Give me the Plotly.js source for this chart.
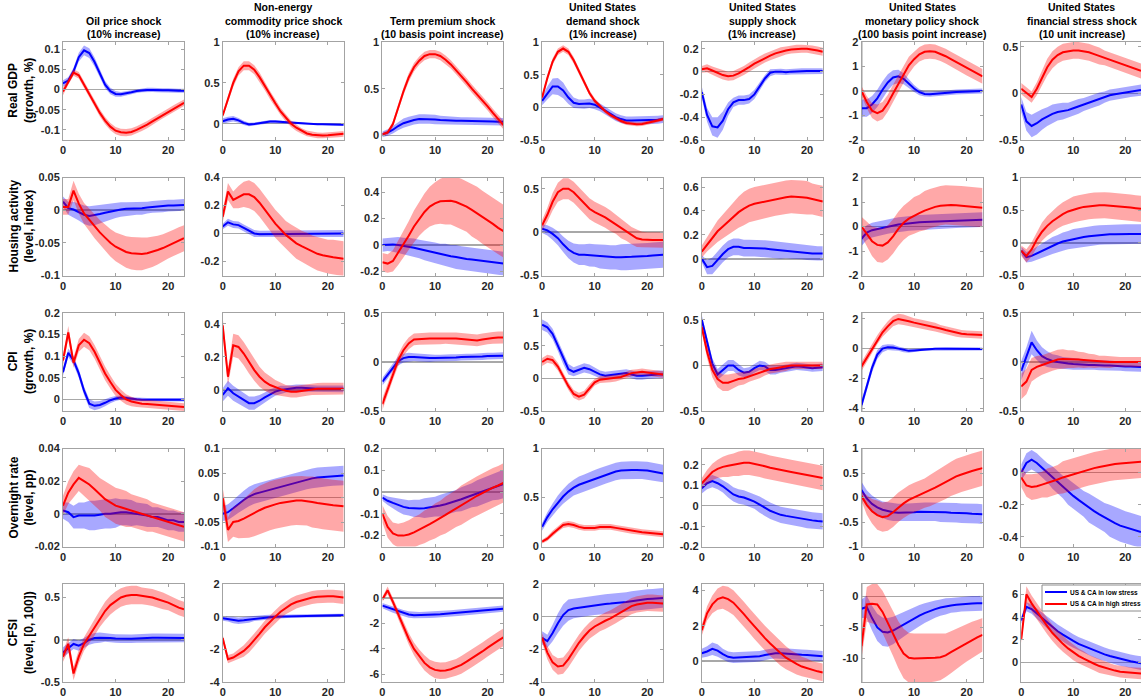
<!DOCTYPE html>
<html>
<head>
<meta charset="utf-8">
<script src="https://cdn.plot.ly/plotly-3.0.1.min.js"></script>
<style>html,body{margin:0;padding:0;background:#fff;}#chart{width:1141px;height:700px;}</style>
</head>
<body>
<div id="chart"></div>
<script>
// ---------- categories / labels ----------
const horizon = [0,1,2,3,4,5,6,7,8,9,10,11,12,13,14,15,16,17,18,19,20,21,22,23];
const xTickVals = [0,10,20];
const rowTitles = ["Real GDP<br>(growth, %)","Housing activity<br>(level, index)","CPI<br>(growth, %)","Overnight rate<br>(level, pp)","CFSI<br>(level, [0, 100])"];
const colTitles = ["Oil price shock<br>(10% increase)","Non-energy<br>commodity price shock<br>(10% increase)","Term premium shock<br>(10 basis point increase)","United States<br>demand shock<br>(1% increase)","United States<br>supply shock<br>(1% increase)","United States<br>monetary policy shock<br>(100 basis point increase)","United States<br>financial stress shock<br>(10 unit increase)"];
const seriesNames = ["US & CA in low stress","US & CA in high stress"];

// ---------- Row 1: Real GDP ----------
const gdp_oil_lo = [0.015,0.022,0.045,0.08,0.097,0.09,0.068,0.038,0.012,-0.004,-0.011,-0.012,-0.01,-0.007,-0.004,-0.002,-0.001,-0.001,-0.002,-0.002,-0.002,-0.003,-0.003,-0.003];
const gdp_oil_lo_bw = [0.008,0.008,0.009,0.011,0.012,0.012,0.011,0.01,0.009,0.008,0.007,0.006,0.006,0.005,0.005,0.005,0.005,0.005,0.005,0.005,0.005,0.005,0.005,0.005];
const gdp_oil_hi = [-0.005,0.02,0.042,0.035,0.012,-0.012,-0.035,-0.058,-0.077,-0.092,-0.102,-0.106,-0.107,-0.105,-0.1,-0.094,-0.087,-0.079,-0.071,-0.063,-0.055,-0.047,-0.04,-0.033];
const gdp_oil_hi_bw = [0.009,0.008,0.008,0.008,0.008,0.008,0.008,0.009,0.009,0.009,0.009,0.009,0.009,0.009,0.009,0.009,0.009,0.009,0.008,0.008,0.008,0.008,0.008,0.008];

const gdp_comm_lo = [0.03,0.05,0.06,0.04,0.01,-0.01,-0.005,0.005,0.015,0.025,0.025,0.02,0.015,0.01,0.005,0.0,-0.003,-0.005,-0.007,-0.008,-0.009,-0.01,-0.011,-0.012];
const gdp_comm_lo_bw = [0.035,0.035,0.035,0.03,0.025,0.022,0.02,0.02,0.02,0.02,0.02,0.018,0.016,0.015,0.014,0.013,0.012,0.012,0.012,0.012,0.012,0.012,0.012,0.012];
const gdp_comm_hi = [0.1,0.3,0.5,0.64,0.71,0.71,0.66,0.57,0.46,0.35,0.25,0.15,0.07,0.0,-0.05,-0.09,-0.12,-0.135,-0.143,-0.145,-0.143,-0.138,-0.132,-0.125];
const gdp_comm_hi_bw = [0.03,0.04,0.05,0.05,0.055,0.055,0.055,0.055,0.05,0.05,0.05,0.045,0.045,0.04,0.04,0.035,0.035,0.035,0.035,0.035,0.035,0.035,0.035,0.035];

const gdp_term_lo = [0.01,0.03,0.06,0.1,0.13,0.15,0.165,0.175,0.175,0.175,0.17,0.165,0.16,0.158,0.156,0.155,0.155,0.154,0.153,0.152,0.15,0.148,0.146,0.145];
const gdp_term_lo_bw = [0.03,0.035,0.04,0.045,0.05,0.05,0.05,0.05,0.05,0.05,0.05,0.045,0.045,0.045,0.04,0.04,0.04,0.04,0.04,0.04,0.04,0.04,0.04,0.04];
const gdp_term_hi = [0.01,0.03,0.12,0.3,0.47,0.62,0.73,0.8,0.85,0.87,0.87,0.85,0.81,0.76,0.7,0.64,0.57,0.5,0.44,0.37,0.31,0.24,0.17,0.11];
const gdp_term_hi_bw = [0.02,0.025,0.03,0.035,0.04,0.045,0.045,0.045,0.045,0.045,0.045,0.045,0.045,0.045,0.045,0.045,0.045,0.045,0.045,0.045,0.045,0.045,0.045,0.045];

const gdp_dem_lo = [0.1,0.22,0.32,0.32,0.26,0.15,0.07,0.05,0.05,0.06,0.04,0.0,-0.05,-0.1,-0.15,-0.18,-0.2,-0.2,-0.2,-0.2,-0.2,-0.2,-0.19,-0.18];
const gdp_dem_lo_bw = [0.07,0.1,0.12,0.13,0.12,0.1,0.08,0.07,0.07,0.07,0.07,0.06,0.06,0.06,0.06,0.06,0.06,0.06,0.06,0.06,0.06,0.06,0.06,0.06];
const gdp_dem_hi = [0.15,0.45,0.7,0.85,0.9,0.85,0.72,0.55,0.38,0.22,0.1,0.02,-0.06,-0.12,-0.17,-0.21,-0.24,-0.25,-0.26,-0.255,-0.24,-0.22,-0.2,-0.18];
const gdp_dem_hi_bw = [0.04,0.05,0.05,0.05,0.05,0.05,0.05,0.05,0.04,0.04,0.04,0.04,0.03,0.03,0.03,0.03,0.03,0.03,0.03,0.03,0.03,0.03,0.03,0.03];

const gdp_sup_lo = [-0.18,-0.38,-0.48,-0.49,-0.43,-0.33,-0.27,-0.25,-0.25,-0.24,-0.2,-0.13,-0.06,-0.01,0.0,0.0,-0.005,0.0,0.003,0.005,0.005,0.005,0.005,0.005];
const gdp_sup_lo_bw = [0.05,0.06,0.08,0.09,0.08,0.06,0.04,0.04,0.04,0.04,0.04,0.035,0.03,0.03,0.025,0.025,0.025,0.025,0.025,0.025,0.025,0.025,0.025,0.025];
const gdp_sup_hi = [0.02,0.03,0.01,-0.01,-0.03,-0.04,-0.035,-0.015,0.01,0.04,0.07,0.095,0.12,0.14,0.16,0.175,0.185,0.195,0.2,0.2,0.2,0.195,0.185,0.175];
const gdp_sup_hi_bw = [0.03,0.035,0.035,0.04,0.04,0.04,0.04,0.04,0.04,0.04,0.04,0.04,0.04,0.04,0.04,0.04,0.035,0.035,0.035,0.035,0.035,0.035,0.035,0.035];

const gdp_mon_lo = [-0.7,-0.7,-0.55,-0.3,0.05,0.35,0.55,0.6,0.5,0.3,0.1,-0.05,-0.12,-0.13,-0.12,-0.1,-0.08,-0.06,-0.04,-0.03,-0.02,-0.01,0.0,0.0];
const gdp_mon_lo_bw = [0.35,0.35,0.35,0.35,0.35,0.33,0.3,0.27,0.22,0.18,0.14,0.12,0.1,0.1,0.1,0.1,0.1,0.1,0.1,0.1,0.1,0.1,0.1,0.1];
const gdp_mon_hi = [0.0,-0.45,-0.8,-0.9,-0.8,-0.5,-0.1,0.3,0.7,1.05,1.3,1.5,1.6,1.62,1.6,1.52,1.42,1.3,1.18,1.05,0.93,0.82,0.7,0.6];
const gdp_mon_hi_bw = [0.2,0.25,0.3,0.35,0.35,0.35,0.35,0.35,0.35,0.35,0.3,0.3,0.3,0.3,0.3,0.3,0.3,0.3,0.3,0.3,0.3,0.3,0.3,0.3];

const gdp_fin_lo = [-0.12,-0.3,-0.35,-0.32,-0.28,-0.25,-0.22,-0.2,-0.19,-0.18,-0.16,-0.14,-0.12,-0.1,-0.08,-0.06,-0.04,-0.02,-0.01,0.0,0.01,0.02,0.03,0.035];
const gdp_fin_lo_bw = [0.08,0.1,0.12,0.12,0.11,0.1,0.1,0.09,0.09,0.08,0.08,0.08,0.07,0.07,0.07,0.07,0.06,0.06,0.06,0.06,0.06,0.06,0.06,0.06];
const gdp_fin_hi = [0.05,0.0,-0.04,0.05,0.17,0.28,0.36,0.41,0.44,0.45,0.46,0.46,0.45,0.44,0.42,0.4,0.38,0.36,0.34,0.32,0.3,0.28,0.26,0.24];
const gdp_fin_hi_bw = [0.06,0.06,0.06,0.07,0.08,0.09,0.09,0.09,0.09,0.09,0.09,0.09,0.09,0.09,0.09,0.09,0.08,0.08,0.08,0.08,0.08,0.08,0.08,0.08];

// ---------- Row 2: Housing activity ----------
const house_oil_lo = [0.013,0.003,0.001,-0.003,-0.007,-0.009,-0.008,-0.006,-0.004,-0.002,0.0,0.001,0.002,0.002,0.003,0.003,0.004,0.005,0.006,0.006,0.007,0.007,0.008,0.008];
const house_oil_lo_bw = [0.008,0.01,0.012,0.013,0.014,0.015,0.015,0.015,0.014,0.013,0.012,0.011,0.01,0.01,0.01,0.01,0.009,0.009,0.009,0.009,0.009,0.009,0.009,0.009];
const house_oil_hi = [0.005,0.005,0.03,0.01,-0.005,-0.015,-0.025,-0.034,-0.042,-0.05,-0.056,-0.06,-0.064,-0.066,-0.067,-0.067,-0.066,-0.064,-0.061,-0.058,-0.054,-0.05,-0.046,-0.043];
const house_oil_hi_bw = [0.012,0.012,0.015,0.015,0.016,0.017,0.018,0.019,0.02,0.021,0.022,0.023,0.024,0.025,0.025,0.025,0.024,0.023,0.022,0.021,0.02,0.02,0.02,0.02];

const house_comm_lo = [0.05,0.08,0.065,0.06,0.04,0.02,0.0,-0.005,-0.005,-0.003,0.0,0.0,0.0,0.0,0.0,0.0,0.0,0.0,0.0,0.0,0.0,0.0,0.0,0.0];
const house_comm_lo_bw = [0.02,0.025,0.025,0.025,0.025,0.025,0.025,0.025,0.025,0.025,0.025,0.025,0.025,0.025,0.025,0.025,0.025,0.025,0.025,0.025,0.025,0.025,0.025,0.025];
const house_comm_hi = [0.12,0.3,0.24,0.26,0.28,0.28,0.26,0.22,0.17,0.12,0.07,0.03,-0.01,-0.04,-0.07,-0.09,-0.11,-0.13,-0.145,-0.155,-0.165,-0.17,-0.175,-0.18];
const house_comm_hi_bw = [0.04,0.06,0.06,0.08,0.09,0.1,0.1,0.1,0.1,0.1,0.1,0.1,0.1,0.105,0.11,0.11,0.115,0.115,0.12,0.12,0.12,0.125,0.125,0.125];

const house_term_lo = [0.0,0.005,0.005,0.0,-0.005,-0.01,-0.02,-0.03,-0.04,-0.05,-0.06,-0.07,-0.075,-0.085,-0.09,-0.1,-0.105,-0.11,-0.115,-0.12,-0.125,-0.13,-0.135,-0.14];
const house_term_lo_bw = [0.05,0.05,0.055,0.06,0.06,0.065,0.07,0.07,0.075,0.075,0.08,0.08,0.085,0.085,0.09,0.09,0.09,0.09,0.09,0.09,0.09,0.09,0.09,0.09];
const house_term_hi = [-0.13,-0.14,-0.12,-0.06,0.0,0.07,0.14,0.2,0.25,0.29,0.315,0.33,0.335,0.335,0.325,0.31,0.29,0.265,0.24,0.21,0.185,0.16,0.13,0.105];
const house_term_hi_bw = [0.07,0.07,0.08,0.09,0.1,0.11,0.12,0.13,0.14,0.15,0.16,0.17,0.18,0.18,0.19,0.19,0.19,0.2,0.2,0.2,0.2,0.2,0.2,0.2];

const house_dem_lo = [0.04,0.02,-0.02,-0.07,-0.14,-0.2,-0.24,-0.26,-0.26,-0.265,-0.27,-0.28,-0.285,-0.29,-0.29,-0.29,-0.29,-0.285,-0.28,-0.28,-0.275,-0.27,-0.265,-0.26];
const house_dem_lo_bw = [0.05,0.06,0.07,0.08,0.09,0.1,0.11,0.12,0.12,0.13,0.13,0.14,0.14,0.14,0.14,0.15,0.15,0.15,0.15,0.15,0.15,0.15,0.15,0.15];
const house_dem_hi = [0.08,0.2,0.35,0.46,0.5,0.5,0.46,0.4,0.33,0.27,0.23,0.2,0.17,0.13,0.09,0.04,0.0,-0.04,-0.07,-0.085,-0.09,-0.09,-0.09,-0.09];
const house_dem_hi_bw = [0.06,0.08,0.1,0.11,0.12,0.12,0.12,0.12,0.12,0.12,0.12,0.12,0.12,0.12,0.11,0.11,0.1,0.1,0.1,0.09,0.09,0.09,0.09,0.09];

const house_sup_lo = [0.0,-0.07,-0.06,-0.01,0.04,0.08,0.1,0.1,0.09,0.09,0.09,0.09,0.085,0.08,0.075,0.07,0.07,0.065,0.06,0.055,0.05,0.045,0.045,0.045];
const house_sup_lo_bw = [0.03,0.06,0.07,0.07,0.07,0.07,0.07,0.07,0.07,0.07,0.07,0.07,0.07,0.07,0.07,0.07,0.065,0.065,0.065,0.06,0.06,0.06,0.06,0.06];
const house_sup_hi = [0.06,0.12,0.18,0.23,0.27,0.31,0.35,0.39,0.42,0.445,0.46,0.47,0.48,0.49,0.5,0.51,0.515,0.52,0.52,0.515,0.51,0.5,0.49,0.48];
const house_sup_hi_bw = [0.05,0.06,0.08,0.09,0.1,0.11,0.12,0.13,0.14,0.14,0.14,0.14,0.14,0.14,0.14,0.14,0.14,0.14,0.14,0.14,0.14,0.13,0.13,0.13];

const house_mon_lo = [-0.5,-0.25,-0.15,-0.1,-0.05,0.0,0.05,0.08,0.1,0.13,0.15,0.17,0.18,0.19,0.2,0.21,0.22,0.23,0.24,0.25,0.26,0.27,0.28,0.28];
const house_mon_lo_bw = [0.3,0.3,0.3,0.3,0.3,0.3,0.3,0.3,0.3,0.3,0.3,0.3,0.3,0.3,0.3,0.3,0.3,0.3,0.3,0.3,0.3,0.3,0.3,0.3];
const house_mon_hi = [0.0,-0.3,-0.6,-0.75,-0.78,-0.65,-0.4,-0.1,0.15,0.32,0.45,0.55,0.65,0.73,0.8,0.85,0.88,0.88,0.87,0.85,0.83,0.81,0.79,0.77];
const house_mon_hi_bw = [0.4,0.5,0.6,0.7,0.7,0.7,0.7,0.7,0.7,0.7,0.75,0.75,0.8,0.8,0.8,0.8,0.8,0.8,0.8,0.8,0.8,0.8,0.8,0.8];

const house_fin_lo = [-0.12,-0.22,-0.2,-0.16,-0.12,-0.08,-0.04,-0.01,0.02,0.04,0.06,0.075,0.09,0.1,0.11,0.12,0.125,0.13,0.13,0.135,0.135,0.135,0.135,0.135];
const house_fin_lo_bw = [0.06,0.08,0.09,0.1,0.11,0.12,0.13,0.13,0.14,0.14,0.15,0.15,0.15,0.15,0.15,0.15,0.15,0.15,0.15,0.15,0.15,0.15,0.15,0.15];
const house_fin_hi = [-0.12,-0.2,-0.1,0.05,0.17,0.26,0.33,0.39,0.44,0.48,0.51,0.53,0.55,0.56,0.57,0.575,0.575,0.57,0.565,0.56,0.55,0.54,0.53,0.52];
const house_fin_hi_bw = [0.08,0.1,0.11,0.12,0.14,0.15,0.16,0.17,0.18,0.19,0.2,0.2,0.2,0.2,0.2,0.2,0.2,0.2,0.2,0.2,0.2,0.2,0.2,0.2];

// ---------- Row 3: CPI ----------
const cpi_oil_lo = [0.063,0.108,0.09,0.06,0.02,-0.01,-0.015,-0.013,-0.008,-0.002,0.002,0.004,0.003,0.001,0.0,-0.001,-0.001,-0.001,-0.001,-0.001,-0.001,-0.001,-0.001,-0.001];
const cpi_oil_lo_bw = [0.008,0.01,0.01,0.01,0.01,0.01,0.01,0.009,0.008,0.007,0.006,0.005,0.005,0.004,0.004,0.004,0.004,0.004,0.004,0.004,0.004,0.004,0.004,0.004];
const cpi_oil_hi = [0.09,0.155,0.085,0.125,0.138,0.13,0.11,0.085,0.06,0.04,0.022,0.01,0.0,-0.005,-0.008,-0.01,-0.011,-0.012,-0.013,-0.014,-0.015,-0.016,-0.017,-0.018];
const cpi_oil_hi_bw = [0.012,0.015,0.012,0.015,0.016,0.016,0.016,0.016,0.016,0.015,0.014,0.013,0.012,0.011,0.01,0.01,0.01,0.01,0.009,0.009,0.009,0.009,0.009,0.009];

const cpi_comm_lo = [-0.03,0.01,-0.02,-0.04,-0.06,-0.08,-0.08,-0.065,-0.045,-0.025,-0.01,0.0,0.005,0.01,0.013,0.013,0.01,0.008,0.007,0.007,0.007,0.007,0.007,0.007];
const cpi_comm_lo_bw = [0.04,0.045,0.045,0.045,0.04,0.04,0.04,0.035,0.03,0.03,0.025,0.025,0.02,0.02,0.02,0.02,0.02,0.02,0.02,0.02,0.02,0.02,0.02,0.02];
const cpi_comm_hi = [0.39,0.08,0.27,0.26,0.22,0.17,0.12,0.08,0.05,0.03,0.015,0.005,-0.005,-0.01,-0.01,-0.005,0.0,0.005,0.007,0.008,0.008,0.008,0.008,0.008];
const cpi_comm_hi_bw = [0.05,0.05,0.07,0.07,0.07,0.07,0.065,0.06,0.055,0.05,0.045,0.04,0.035,0.035,0.035,0.035,0.035,0.035,0.035,0.035,0.035,0.035,0.035,0.035];

const cpi_term_lo = [-0.2,-0.13,-0.05,0.01,0.04,0.05,0.05,0.045,0.04,0.04,0.04,0.04,0.045,0.045,0.045,0.05,0.05,0.05,0.055,0.055,0.06,0.06,0.065,0.065];
const cpi_term_lo_bw = [0.04,0.04,0.04,0.045,0.045,0.045,0.04,0.04,0.04,0.04,0.035,0.035,0.035,0.035,0.035,0.035,0.035,0.035,0.035,0.035,0.035,0.035,0.035,0.035];
const cpi_term_hi = [-0.43,-0.28,-0.12,0.02,0.12,0.19,0.23,0.235,0.24,0.24,0.24,0.24,0.245,0.245,0.24,0.235,0.23,0.225,0.22,0.23,0.24,0.245,0.25,0.25];
const cpi_term_hi_bw = [0.06,0.06,0.06,0.06,0.06,0.06,0.06,0.06,0.06,0.06,0.06,0.06,0.06,0.06,0.06,0.06,0.06,0.06,0.06,0.06,0.06,0.06,0.06,0.06];

const cpi_dem_lo = [0.82,0.78,0.68,0.5,0.3,0.14,0.1,0.13,0.16,0.14,0.1,0.06,0.04,0.05,0.07,0.08,0.08,0.06,0.04,0.04,0.05,0.06,0.06,0.06];
const cpi_dem_lo_bw = [0.08,0.08,0.08,0.08,0.08,0.08,0.07,0.07,0.07,0.07,0.06,0.06,0.06,0.06,0.06,0.06,0.06,0.06,0.06,0.06,0.06,0.06,0.06,0.06];
const cpi_dem_hi = [0.25,0.3,0.28,0.18,0.03,-0.12,-0.24,-0.28,-0.25,-0.15,-0.06,-0.02,-0.01,-0.01,0.0,0.02,0.05,0.08,0.09,0.1,0.09,0.08,0.07,0.06];
const cpi_dem_hi_bw = [0.06,0.06,0.06,0.06,0.06,0.06,0.06,0.06,0.06,0.06,0.05,0.05,0.05,0.05,0.05,0.05,0.05,0.05,0.05,0.05,0.05,0.05,0.05,0.05];

const cpi_sup_lo = [0.5,0.25,0.02,-0.1,-0.05,0.0,0.0,-0.05,-0.08,-0.07,-0.03,0.0,-0.01,-0.05,-0.05,-0.04,-0.03,-0.02,-0.01,-0.015,-0.02,-0.03,-0.025,-0.02];
const cpi_sup_lo_bw = [0.05,0.06,0.06,0.06,0.06,0.06,0.06,0.06,0.05,0.05,0.05,0.05,0.05,0.05,0.05,0.04,0.04,0.04,0.04,0.04,0.04,0.04,0.04,0.04];
const cpi_sup_hi = [0.42,0.15,-0.05,-0.15,-0.19,-0.19,-0.17,-0.15,-0.14,-0.12,-0.1,-0.08,-0.06,-0.04,-0.03,-0.02,-0.01,0.0,0.0,0.0,0.0,0.0,0.0,0.0];
const cpi_sup_hi_bw = [0.05,0.07,0.08,0.09,0.09,0.09,0.08,0.07,0.07,0.06,0.06,0.06,0.05,0.05,0.05,0.05,0.05,0.04,0.04,0.04,0.04,0.04,0.04,0.04];

const cpi_mon_lo = [-3.8,-2.5,-1.3,-0.4,0.0,0.1,0.08,0.0,-0.1,-0.15,-0.12,-0.08,-0.05,-0.02,0.0,0.0,0.0,0.0,0.0,0.0,0.0,-0.02,-0.02,-0.02];
const cpi_mon_lo_bw = [0.3,0.3,0.3,0.3,0.25,0.2,0.2,0.15,0.15,0.12,0.12,0.1,0.1,0.1,0.1,0.1,0.1,0.1,0.1,0.1,0.1,0.1,0.1,0.1];
const cpi_mon_hi = [-1.2,-0.6,0.0,0.6,1.1,1.5,1.85,2.0,1.95,1.85,1.75,1.68,1.6,1.52,1.45,1.35,1.25,1.15,1.05,1.0,0.97,0.95,0.93,0.92];
const cpi_mon_hi_bw = [0.3,0.3,0.3,0.3,0.3,0.35,0.35,0.35,0.35,0.3,0.3,0.3,0.3,0.3,0.3,0.25,0.25,0.25,0.25,0.25,0.25,0.25,0.25,0.25];

const cpi_fin_lo = [-0.09,0.05,0.2,0.12,0.06,0.03,0.01,0.0,-0.01,-0.015,-0.02,-0.025,-0.03,-0.03,-0.03,-0.035,-0.035,-0.035,-0.04,-0.04,-0.045,-0.045,-0.05,-0.05];
const cpi_fin_lo_bw = [0.1,0.1,0.12,0.1,0.09,0.08,0.07,0.07,0.06,0.06,0.06,0.06,0.05,0.05,0.05,0.05,0.05,0.05,0.05,0.05,0.05,0.05,0.05,0.05];
const cpi_fin_hi = [-0.25,-0.2,-0.08,-0.05,-0.03,-0.01,0.01,0.025,0.03,0.03,0.03,0.025,0.02,0.015,0.01,0.005,0.005,0.0,0.0,0.0,0.0,0.0,0.0,0.0];
const cpi_fin_hi_bw = [0.13,0.13,0.12,0.11,0.1,0.1,0.1,0.1,0.1,0.09,0.09,0.08,0.08,0.07,0.07,0.06,0.06,0.06,0.05,0.05,0.05,0.05,0.05,0.05];

// ---------- Row 4: Overnight rate ----------
const rate_oil_lo = [0.002,0.001,-0.002,-0.001,-0.001,-0.001,-0.001,-0.0005,0.0,0.0,0.0005,0.001,0.001,0.0005,0.0,-0.0005,-0.001,-0.002,-0.002,-0.003,-0.004,-0.004,-0.005,-0.005];
const rate_oil_lo_bw = [0.005,0.006,0.007,0.008,0.008,0.009,0.009,0.009,0.009,0.009,0.009,0.008,0.008,0.008,0.007,0.007,0.007,0.006,0.006,0.006,0.006,0.006,0.006,0.006];
const rate_oil_hi = [0.005,0.013,0.018,0.022,0.02,0.018,0.015,0.012,0.009,0.007,0.005,0.004,0.003,0.002,0.001,0.0,-0.001,-0.002,-0.003,-0.004,-0.005,-0.006,-0.007,-0.008];
const rate_oil_hi_bw = [0.006,0.007,0.008,0.008,0.009,0.01,0.01,0.01,0.011,0.011,0.011,0.011,0.011,0.01,0.01,0.01,0.01,0.009,0.009,0.009,0.009,0.009,0.009,0.009];

const rate_comm_lo = [-0.033,-0.03,-0.022,-0.013,-0.005,0.002,0.007,0.01,0.013,0.016,0.019,0.022,0.025,0.028,0.031,0.034,0.037,0.039,0.041,0.042,0.043,0.044,0.045,0.045];
const rate_comm_lo_bw = [0.015,0.016,0.017,0.018,0.019,0.02,0.02,0.02,0.02,0.02,0.02,0.02,0.02,0.02,0.02,0.02,0.02,0.02,0.02,0.02,0.02,0.02,0.02,0.02];
const rate_comm_hi = [0.0,-0.066,-0.05,-0.048,-0.043,-0.037,-0.031,-0.026,-0.021,-0.017,-0.014,-0.011,-0.009,-0.007,-0.006,-0.006,-0.007,-0.009,-0.011,-0.013,-0.015,-0.016,-0.017,-0.018];
const rate_comm_hi_bw = [0.02,0.025,0.03,0.035,0.04,0.045,0.048,0.05,0.05,0.05,0.05,0.05,0.05,0.05,0.05,0.05,0.05,0.052,0.052,0.052,0.052,0.052,0.052,0.052];

const rate_term_lo = [-0.025,-0.04,-0.05,-0.06,-0.068,-0.073,-0.075,-0.075,-0.074,-0.071,-0.067,-0.062,-0.056,-0.049,-0.041,-0.033,-0.024,-0.015,-0.006,0.004,0.013,0.022,0.03,0.037];
const rate_term_lo_bw = [0.015,0.02,0.025,0.03,0.035,0.035,0.04,0.04,0.045,0.045,0.045,0.05,0.05,0.05,0.05,0.055,0.055,0.055,0.06,0.06,0.06,0.06,0.065,0.065];
const rate_term_hi = [-0.1,-0.16,-0.19,-0.2,-0.2,-0.195,-0.185,-0.173,-0.16,-0.147,-0.133,-0.12,-0.105,-0.09,-0.075,-0.06,-0.045,-0.03,-0.017,-0.005,0.008,0.02,0.03,0.042];
const rate_term_hi_bw = [0.04,0.05,0.05,0.055,0.06,0.065,0.07,0.07,0.075,0.075,0.08,0.08,0.085,0.085,0.085,0.09,0.09,0.09,0.09,0.09,0.09,0.09,0.09,0.09];

const rate_dem_lo = [0.2,0.3,0.38,0.45,0.51,0.56,0.6,0.63,0.65,0.67,0.69,0.71,0.73,0.75,0.765,0.775,0.78,0.78,0.78,0.78,0.775,0.765,0.755,0.745];
const rate_dem_lo_bw = [0.04,0.05,0.06,0.07,0.075,0.08,0.08,0.085,0.085,0.09,0.09,0.09,0.09,0.09,0.09,0.09,0.09,0.09,0.09,0.09,0.09,0.09,0.09,0.09];
const rate_dem_hi = [0.05,0.08,0.13,0.18,0.22,0.23,0.22,0.2,0.19,0.19,0.19,0.2,0.2,0.2,0.19,0.18,0.17,0.16,0.15,0.145,0.14,0.135,0.13,0.125];
const rate_dem_hi_bw = [0.02,0.025,0.03,0.03,0.03,0.03,0.03,0.03,0.03,0.03,0.03,0.03,0.03,0.03,0.03,0.03,0.03,0.03,0.03,0.03,0.03,0.03,0.03,0.03];

const rate_sup_lo = [0.085,0.11,0.12,0.11,0.095,0.075,0.055,0.045,0.04,0.03,0.02,0.005,-0.01,-0.025,-0.035,-0.045,-0.05,-0.055,-0.06,-0.065,-0.07,-0.072,-0.075,-0.077];
const rate_sup_lo_bw = [0.025,0.03,0.03,0.03,0.03,0.035,0.035,0.035,0.035,0.035,0.035,0.04,0.04,0.04,0.04,0.04,0.04,0.04,0.04,0.04,0.04,0.04,0.04,0.04];
const rate_sup_hi = [0.11,0.14,0.165,0.18,0.19,0.195,0.2,0.205,0.21,0.21,0.205,0.2,0.193,0.186,0.18,0.175,0.17,0.165,0.16,0.155,0.15,0.145,0.14,0.135];
const rate_sup_hi_bw = [0.025,0.035,0.04,0.045,0.05,0.055,0.055,0.06,0.06,0.06,0.06,0.06,0.06,0.06,0.06,0.06,0.06,0.06,0.06,0.06,0.06,0.06,0.06,0.06];

const rate_mon_lo = [0.15,-0.02,-0.13,-0.2,-0.25,-0.28,-0.3,-0.31,-0.31,-0.3,-0.3,-0.29,-0.29,-0.29,-0.29,-0.3,-0.3,-0.31,-0.31,-0.32,-0.32,-0.33,-0.33,-0.34];
const rate_mon_lo_bw = [0.17,0.17,0.17,0.17,0.17,0.18,0.18,0.18,0.18,0.18,0.19,0.19,0.19,0.19,0.19,0.2,0.2,0.2,0.2,0.2,0.2,0.2,0.2,0.2];
const rate_mon_hi = [0.03,-0.15,-0.28,-0.36,-0.4,-0.38,-0.3,-0.2,-0.12,-0.05,0.0,0.04,0.09,0.14,0.2,0.26,0.32,0.38,0.43,0.47,0.51,0.54,0.57,0.6];
const rate_mon_hi_bw = [0.1,0.2,0.25,0.3,0.3,0.3,0.3,0.3,0.3,0.3,0.3,0.3,0.3,0.32,0.33,0.34,0.35,0.35,0.36,0.36,0.36,0.36,0.36,0.36];

const rate_fin_lo = [0.0,0.06,0.08,0.06,0.03,0.0,-0.03,-0.06,-0.09,-0.12,-0.145,-0.17,-0.195,-0.22,-0.24,-0.26,-0.28,-0.3,-0.315,-0.33,-0.34,-0.35,-0.36,-0.37];
const rate_fin_lo_bw = [0.05,0.06,0.06,0.06,0.06,0.06,0.07,0.07,0.07,0.08,0.08,0.08,0.08,0.09,0.09,0.09,0.09,0.1,0.1,0.1,0.1,0.1,0.1,0.1];
const rate_fin_hi = [-0.03,-0.08,-0.09,-0.085,-0.075,-0.065,-0.055,-0.043,-0.03,-0.02,-0.01,0.0,0.01,0.02,0.028,0.035,0.042,0.048,0.053,0.057,0.06,0.063,0.065,0.067];
const rate_fin_hi_bw = [0.06,0.07,0.08,0.08,0.08,0.09,0.09,0.09,0.1,0.1,0.1,0.1,0.1,0.1,0.1,0.1,0.1,0.1,0.1,0.1,0.1,0.1,0.1,0.1];

// ---------- Row 5: CFSI ----------
const cfsi_oil_lo = [-0.15,-0.1,-0.05,-0.07,-0.04,0.0,0.02,0.025,0.025,0.02,0.015,0.012,0.01,0.012,0.015,0.02,0.022,0.023,0.023,0.022,0.021,0.02,0.02,0.02];
const cfsi_oil_lo_bw = [0.06,0.06,0.06,0.06,0.06,0.06,0.06,0.06,0.05,0.05,0.05,0.05,0.05,0.05,0.05,0.05,0.05,0.05,0.05,0.05,0.05,0.05,0.05,0.05];
const cfsi_oil_hi = [-0.2,-0.05,-0.4,-0.2,-0.05,0.05,0.15,0.25,0.34,0.41,0.46,0.5,0.52,0.53,0.53,0.52,0.51,0.5,0.48,0.46,0.44,0.41,0.38,0.36];
const cfsi_oil_hi_bw = [0.06,0.08,0.08,0.08,0.08,0.09,0.1,0.1,0.11,0.11,0.11,0.11,0.11,0.11,0.11,0.1,0.1,0.1,0.1,0.1,0.09,0.09,0.09,0.09];

const cfsi_comm_lo = [-0.1,-0.15,-0.2,-0.25,-0.22,-0.18,-0.12,-0.08,-0.05,-0.03,-0.01,0.0,0.02,0.03,0.04,0.05,0.05,0.06,0.06,0.07,0.07,0.08,0.08,0.08];
const cfsi_comm_lo_bw = [0.15,0.15,0.2,0.2,0.2,0.2,0.15,0.15,0.15,0.15,0.12,0.12,0.1,0.1,0.1,0.1,0.1,0.1,0.1,0.1,0.1,0.1,0.1,0.1];
const cfsi_comm_hi = [-1.3,-2.6,-2.5,-2.3,-2.1,-1.8,-1.45,-1.05,-0.65,-0.3,0.0,0.3,0.55,0.75,0.9,1.0,1.1,1.17,1.22,1.25,1.25,1.25,1.22,1.18];
const cfsi_comm_hi_bw = [0.2,0.25,0.25,0.3,0.35,0.4,0.4,0.4,0.4,0.4,0.4,0.4,0.4,0.4,0.4,0.4,0.4,0.4,0.4,0.4,0.4,0.4,0.4,0.4];

const cfsi_term_lo = [-0.6,-0.75,-0.9,-1.05,-1.2,-1.3,-1.35,-1.35,-1.33,-1.32,-1.3,-1.28,-1.25,-1.22,-1.18,-1.14,-1.1,-1.06,-1.02,-0.98,-0.94,-0.9,-0.87,-0.84];
const cfsi_term_lo_bw = [0.2,0.2,0.25,0.25,0.25,0.25,0.25,0.25,0.25,0.25,0.25,0.25,0.25,0.25,0.25,0.25,0.25,0.25,0.25,0.25,0.25,0.25,0.25,0.25];
const cfsi_term_hi = [-0.1,0.6,-0.3,-1.3,-2.3,-3.2,-4.0,-4.6,-5.1,-5.45,-5.65,-5.72,-5.7,-5.6,-5.45,-5.25,-5.0,-4.75,-4.5,-4.2,-3.9,-3.6,-3.35,-3.1];
const cfsi_term_hi_bw = [0.2,0.3,0.3,0.35,0.4,0.45,0.5,0.55,0.6,0.6,0.65,0.65,0.65,0.65,0.65,0.7,0.7,0.7,0.7,0.7,0.7,0.7,0.7,0.7];

const cfsi_dem_lo = [-1.3,-1.5,-1.0,-0.4,0.1,0.4,0.5,0.55,0.6,0.65,0.7,0.75,0.78,0.8,0.82,0.85,0.9,0.95,1.0,1.05,1.08,1.1,1.12,1.15];
const cfsi_dem_lo_bw = [0.4,0.4,0.5,0.6,0.65,0.65,0.6,0.6,0.6,0.6,0.6,0.6,0.6,0.6,0.6,0.6,0.6,0.6,0.6,0.6,0.6,0.6,0.6,0.6];
const cfsi_dem_hi = [-1.3,-2.2,-2.8,-3.05,-3.0,-2.6,-2.1,-1.6,-1.2,-0.85,-0.6,-0.4,-0.25,-0.1,0.1,0.3,0.5,0.65,0.75,0.8,0.85,0.85,0.83,0.8];
const cfsi_dem_hi_bw = [0.3,0.4,0.45,0.5,0.5,0.5,0.5,0.5,0.5,0.5,0.5,0.5,0.5,0.5,0.5,0.5,0.5,0.5,0.5,0.5,0.5,0.5,0.5,0.5];

const cfsi_sup_lo = [0.45,0.55,0.7,0.6,0.4,0.25,0.2,0.22,0.25,0.26,0.26,0.28,0.35,0.42,0.45,0.45,0.42,0.4,0.38,0.36,0.35,0.33,0.3,0.28];
const cfsi_sup_lo_bw = [0.25,0.3,0.35,0.35,0.3,0.3,0.3,0.3,0.3,0.3,0.3,0.3,0.3,0.3,0.3,0.3,0.3,0.3,0.3,0.3,0.3,0.3,0.3,0.3];
const cfsi_sup_hi = [1.75,2.7,3.2,3.5,3.6,3.5,3.3,3.0,2.65,2.3,1.95,1.6,1.3,1.0,0.7,0.45,0.2,0.0,-0.15,-0.3,-0.4,-0.5,-0.57,-0.63];
const cfsi_sup_hi_bw = [0.3,0.4,0.5,0.6,0.65,0.7,0.7,0.7,0.7,0.7,0.7,0.7,0.7,0.7,0.7,0.7,0.65,0.6,0.6,0.55,0.55,0.5,0.5,0.5];

const cfsi_mon_lo = [-2.0,-1.7,-3.5,-5.0,-5.7,-5.8,-5.5,-5.0,-4.5,-4.0,-3.5,-3.1,-2.7,-2.35,-2.05,-1.8,-1.6,-1.45,-1.35,-1.25,-1.2,-1.15,-1.12,-1.1];
const cfsi_mon_lo_bw = [1.5,1.8,2.0,2.2,2.3,2.3,2.2,2.1,2.0,1.9,1.8,1.7,1.6,1.5,1.4,1.3,1.3,1.2,1.2,1.2,1.2,1.2,1.2,1.2];
const cfsi_mon_hi = [-8.0,-1.3,-1.2,-1.3,-2.5,-4.2,-6.0,-7.8,-9.2,-9.9,-10.0,-10.0,-10.0,-10.0,-9.9,-9.8,-9.5,-9.0,-8.5,-8.0,-7.5,-7.0,-6.6,-6.2];
const cfsi_mon_hi_bw = [2.0,2.8,3.2,3.3,3.4,3.5,3.6,3.8,4.0,4.0,4.0,4.0,4.0,3.9,3.8,3.7,3.5,3.4,3.3,3.1,3.0,2.9,2.8,2.7];

const cfsi_fin_lo = [3.7,4.9,4.7,4.3,3.9,3.5,3.1,2.75,2.45,2.15,1.9,1.65,1.45,1.25,1.05,0.88,0.72,0.58,0.45,0.33,0.22,0.12,0.03,-0.05];
const cfsi_fin_lo_bw = [0.3,0.4,0.4,0.45,0.5,0.5,0.55,0.6,0.6,0.6,0.6,0.6,0.6,0.6,0.6,0.6,0.6,0.6,0.6,0.6,0.6,0.6,0.6,0.6];
const cfsi_fin_hi = [2.0,6.0,5.2,4.5,3.8,3.2,2.6,2.1,1.65,1.25,0.9,0.6,0.35,0.1,-0.1,-0.3,-0.45,-0.6,-0.7,-0.8,-0.85,-0.9,-0.93,-0.95];
const cfsi_fin_hi_bw = [0.3,0.7,0.7,0.7,0.7,0.7,0.7,0.7,0.7,0.7,0.7,0.65,0.65,0.6,0.6,0.6,0.55,0.55,0.5,0.5,0.5,0.5,0.5,0.5];

// ---------- y-axis ranges and tick labels (row-major) ----------
const yRanges = [
  [-0.125,0.1175],[-0.2,1],[-0.05,1],[-0.5,1],[-0.6,0.26],[-2,2],[-0.5,0.55],
  [-0.1,0.05],[-0.3,0.4],[-0.23,0.51],[-0.5,0.63],[-0.14,0.68],[-2,2],[-0.5,1],
  [-0.027,0.2],[-0.127,0.465],[-0.5,0.5],[-0.5,1],[-0.5,0.575],[-4.2,2.4],[-0.5,0.5],
  [-0.02,0.04],[-0.1,0.1],[-0.25,0.2],[0,1],[-0.2,0.28],[-1,1],[-0.46,0.15],
  [-0.5,0.66],[-4,2],[-6.6,1.1],[-4,2],[-1.17,4.35],[-13.8,2],[-1.7,6.9]
];
const yTickVals = [
  [-0.1,-0.05,0,0.05,0.1],[0,0.5,1],[0,0.5,1],[-0.5,0,0.5,1],[-0.6,-0.4,-0.2,0,0.2],[-2,-1,0,1,2],[-0.5,0,0.5],
  [-0.1,-0.05,0,0.05],[-0.2,0,0.2,0.4],[-0.2,0,0.2,0.4],[-0.5,0,0.5],[0,0.2,0.4,0.6],[-2,-1,0,1,2],[-0.5,0,0.5,1],
  [0,0.05,0.1,0.15,0.2],[0,0.2,0.4],[-0.5,0,0.5],[-0.5,0,0.5,1],[-0.5,0,0.5],[-4,-2,0,2],[-0.5,0,0.5],
  [-0.02,0,0.02,0.04],[-0.1,-0.05,0,0.05,0.1],[-0.2,-0.1,0,0.1,0.2],[0,0.5,1],[-0.2,-0.1,0,0.1,0.2],[-1,-0.5,0,0.5,1],[-0.4,-0.2,0],
  [-0.5,0,0.5],[-4,-2,0,2],[-6,-4,-2,0],[-4,-2,0,2],[0,2,4],[-10,-5,0],[0,2,4,6]
];

// ---------- assemble panels from the named arrays ----------
const panels = [
  [gdp_oil_lo,gdp_oil_lo_bw,gdp_oil_hi,gdp_oil_hi_bw],[gdp_comm_lo,gdp_comm_lo_bw,gdp_comm_hi,gdp_comm_hi_bw],[gdp_term_lo,gdp_term_lo_bw,gdp_term_hi,gdp_term_hi_bw],[gdp_dem_lo,gdp_dem_lo_bw,gdp_dem_hi,gdp_dem_hi_bw],[gdp_sup_lo,gdp_sup_lo_bw,gdp_sup_hi,gdp_sup_hi_bw],[gdp_mon_lo,gdp_mon_lo_bw,gdp_mon_hi,gdp_mon_hi_bw],[gdp_fin_lo,gdp_fin_lo_bw,gdp_fin_hi,gdp_fin_hi_bw],
  [house_oil_lo,house_oil_lo_bw,house_oil_hi,house_oil_hi_bw],[house_comm_lo,house_comm_lo_bw,house_comm_hi,house_comm_hi_bw],[house_term_lo,house_term_lo_bw,house_term_hi,house_term_hi_bw],[house_dem_lo,house_dem_lo_bw,house_dem_hi,house_dem_hi_bw],[house_sup_lo,house_sup_lo_bw,house_sup_hi,house_sup_hi_bw],[house_mon_lo,house_mon_lo_bw,house_mon_hi,house_mon_hi_bw],[house_fin_lo,house_fin_lo_bw,house_fin_hi,house_fin_hi_bw],
  [cpi_oil_lo,cpi_oil_lo_bw,cpi_oil_hi,cpi_oil_hi_bw],[cpi_comm_lo,cpi_comm_lo_bw,cpi_comm_hi,cpi_comm_hi_bw],[cpi_term_lo,cpi_term_lo_bw,cpi_term_hi,cpi_term_hi_bw],[cpi_dem_lo,cpi_dem_lo_bw,cpi_dem_hi,cpi_dem_hi_bw],[cpi_sup_lo,cpi_sup_lo_bw,cpi_sup_hi,cpi_sup_hi_bw],[cpi_mon_lo,cpi_mon_lo_bw,cpi_mon_hi,cpi_mon_hi_bw],[cpi_fin_lo,cpi_fin_lo_bw,cpi_fin_hi,cpi_fin_hi_bw],
  [rate_oil_lo,rate_oil_lo_bw,rate_oil_hi,rate_oil_hi_bw],[rate_comm_lo,rate_comm_lo_bw,rate_comm_hi,rate_comm_hi_bw],[rate_term_lo,rate_term_lo_bw,rate_term_hi,rate_term_hi_bw],[rate_dem_lo,rate_dem_lo_bw,rate_dem_hi,rate_dem_hi_bw],[rate_sup_lo,rate_sup_lo_bw,rate_sup_hi,rate_sup_hi_bw],[rate_mon_lo,rate_mon_lo_bw,rate_mon_hi,rate_mon_hi_bw],[rate_fin_lo,rate_fin_lo_bw,rate_fin_hi,rate_fin_hi_bw],
  [cfsi_oil_lo,cfsi_oil_lo_bw,cfsi_oil_hi,cfsi_oil_hi_bw],[cfsi_comm_lo,cfsi_comm_lo_bw,cfsi_comm_hi,cfsi_comm_hi_bw],[cfsi_term_lo,cfsi_term_lo_bw,cfsi_term_hi,cfsi_term_hi_bw],[cfsi_dem_lo,cfsi_dem_lo_bw,cfsi_dem_hi,cfsi_dem_hi_bw],[cfsi_sup_lo,cfsi_sup_lo_bw,cfsi_sup_hi,cfsi_sup_hi_bw],[cfsi_mon_lo,cfsi_mon_lo_bw,cfsi_mon_hi,cfsi_mon_hi_bw],[cfsi_fin_lo,cfsi_fin_lo_bw,cfsi_fin_hi,cfsi_fin_hi_bw]
];

// ---------- layout geometry (pixels) ----------
const W = 1141, H = 700;
const colLeft0 = 63, colStep = 159.7, colW = 121;
const rowTop0 = 42, rowStep = 135.5, rowH = 98;
const FONT = "Liberation Sans, Arial, sans-serif";
const axisGrey = "#a3a3a3";
const tickFont = {family: FONT, size: 11, color: "#262626", weight: 700};

const BLUE = "#0000ff", RED = "#ff0000";
const BLUE_BAND = "rgba(0,0,255,0.34)", RED_BAND = "rgba(255,0,0,0.34)";

const traces = [];
const layout = {
  width: W, height: H,
  margin: {l: 0, r: 0, t: 0, b: 0},
  paper_bgcolor: "#ffffff", plot_bgcolor: "#ffffff",
  showlegend: false,
  annotations: [], shapes: []
};
const px = v => v / W, py = v => 1 - v / H;

const xBack = horizon.concat(horizon.slice().reverse());

for (let r = 0; r < 5; r++) {
  for (let c = 0; c < 7; c++) {
    const k = r * 7 + c;
    const id = k === 0 ? "" : String(k + 1);
    const xa = "x" + id, ya = "y" + id;
    const left = colLeft0 + c * colStep;
    const right = Math.min(left + colW, W);
    const top = rowTop0 + r * rowStep;
    const bottom = top + rowH;
    const [lo, loBw, hi, hiBw] = panels[k];

    const series = [
      {m: lo, bw: loBw, col: BLUE, band: BLUE_BAND, name: seriesNames[0]},
      {m: hi, bw: hiBw, col: RED, band: RED_BAND, name: seriesNames[1]}
    ];
    series.forEach(s => {
      const upper = s.m.map((v, i) => v + s.bw[i]);
      const lower = s.m.map((v, i) => v - s.bw[i]);
      traces.push({
        x: xBack, y: upper.concat(lower.slice().reverse()),
        xaxis: xa, yaxis: ya, type: "scatter", mode: "lines",
        fill: "toself", fillcolor: s.band, line: {width: 0, color: s.band},
        hoverinfo: "skip", showlegend: false
      });
      traces.push({
        x: horizon, y: s.m, xaxis: xa, yaxis: ya, type: "scatter", mode: "lines",
        line: {color: s.col, width: 2}, name: s.name, showlegend: false
      });
    });

    const yt = yTickVals[k];
    layout["xaxis" + id] = {
      domain: [px(left), px(right)], anchor: ya,
      range: [0, 23], tickvals: xTickVals, ticktext: xTickVals.map(String),
      ticks: "inside", ticklen: 3, tickcolor: axisGrey, tickwidth: 1,
      showline: true, linecolor: axisGrey, linewidth: 1, mirror: "ticks",
      showgrid: false, zeroline: false,
      tickfont: tickFont, fixedrange: true
    };
    layout["yaxis" + id] = {
      domain: [py(bottom), py(top)], anchor: xa,
      range: yRanges[k], tickvals: yt, ticktext: yt.map(String),
      ticks: "inside", ticklen: 3, tickcolor: axisGrey, tickwidth: 1,
      showline: true, linecolor: axisGrey, linewidth: 1, mirror: "ticks",
      showgrid: false, zeroline: true, zerolinecolor: "#a8a8a8", zerolinewidth: 1.5,
      tickfont: tickFont, fixedrange: true
    };

    // light vertical reference at horizon 0 (monetary policy column)
    if (c === 5) {
      layout.shapes.push({
        type: "line", xref: xa, yref: ya + " domain", x0: 0, x1: 0, y0: 0, y1: 1,
        line: {color: "#cfcfcf", width: 3}, layer: "below"
      });
    }

    if (r === 0) {
      const lines = colTitles[c].split("<br>");
      lines.forEach((t, i) => {
        layout.annotations.push({
          xref: "paper", yref: "paper", x: px(left + colW / 2), y: py(34.5 - (lines.length - 1 - i) * 13.5),
          xanchor: "center", yanchor: "middle", showarrow: false, borderpad: 0,
          text: t, font: {family: FONT, size: 10.5, color: "#000", weight: 700}
        });
      });
    }
    if (c === 0) {
      layout.annotations.push({
        xref: "paper", yref: "paper", x: px(21), y: py(top + rowH / 2),
        xanchor: "center", yanchor: "middle", showarrow: false, textangle: -90,
        text: rowTitles[r], align: "center",
        font: {family: FONT, size: 12, color: "#000", weight: 700}
      });
    }
  }
}

// ---------- legend box inside the last panel ----------
const legTop = 585, legBottom = 611, legLeft = 1042;
layout.shapes.push({
  type: "rect", xref: "paper", yref: "paper", x0: px(legLeft), x1: px(1150), y0: py(legBottom), y1: py(legTop),
  fillcolor: "#ffffff", line: {color: "#8c8c8c", width: 1}, layer: "above"
});
[BLUE, RED].forEach((col, i) => {
  const yc = 592 + i * 12;
  layout.shapes.push({
    type: "line", xref: "paper", yref: "paper", x0: px(legLeft + 3), x1: px(legLeft + 25), y0: py(yc), y1: py(yc),
    line: {color: col, width: 2}, layer: "above"
  });
  layout.annotations.push({
    xref: "paper", yref: "paper", x: px(legLeft + 27), y: py(yc), xanchor: "left", yanchor: "middle",
    showarrow: false, borderpad: 0, text: seriesNames[i],
    font: {family: FONT, size: 6.5, color: "#000", weight: 700}
  });
});

Plotly.newPlot("chart", traces, layout, {displayModeBar: false, staticPlot: true});
</script>
</body>
</html>
